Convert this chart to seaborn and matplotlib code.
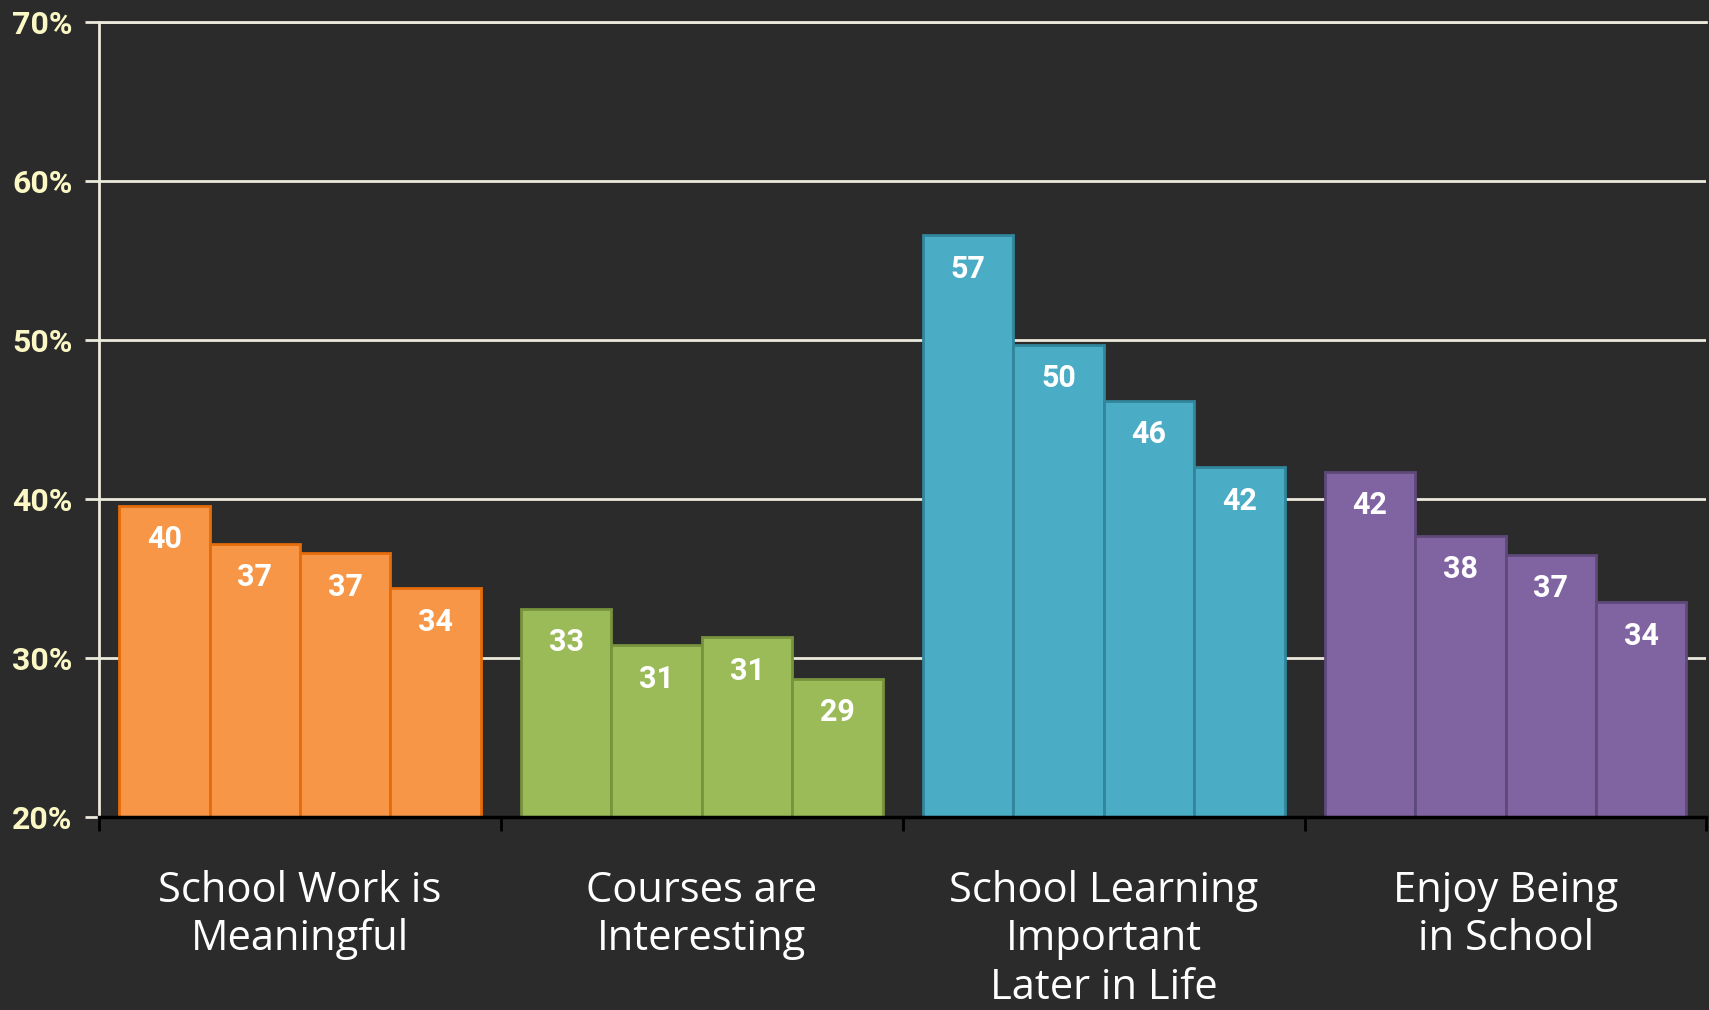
import numpy as np
import pandas as pd
import matplotlib.pyplot as plt
import seaborn as sns

# chart data
categories = ["School Work is\nMeaningful", "Courses are\nInteresting",
              "School Learning\nImportant\nLater in Life", "Enjoy Being\nin School"]
waves = ["Wave 1", "Wave 2", "Wave 3", "Wave 4"]
meaningful = [39.6, 37.2, 36.6, 34.4]
interesting = [33.1, 30.8, 31.3, 28.7]
important_later = [56.6, 49.7, 46.2, 42.0]
enjoy_school = [41.7, 37.7, 36.5, 33.5]
shown_labels = [[40, 37, 37, 34], [33, 31, 31, 29], [57, 50, 46, 42], [42, 38, 37, 34]]
y_ticks = [20, 30, 40, 50, 60, 70]

# colours
fill_colors = ["#F79646", "#9BBB59", "#4BACC6", "#8064A2"]
edge_colors = ["#E46C0A", "#77933C", "#31859C", "#5F497A"]
BG = "#2B2B2B"
GRID = "#ECE9DD"
TICK_TXT = "#FBF8C6"

NARROW = ["Liberation Sans Narrow", "Roboto", "DejaVu Sans"]


def build_frame() -> pd.DataFrame:
    rows = []
    for cat, vals in zip(categories, [meaningful, interesting, important_later, enjoy_school]):
        for w, v in zip(waves, vals):
            rows.append({"category": cat, "wave": w, "value": v})
    return pd.DataFrame(rows)


df = build_frame()

fig = plt.figure(figsize=(17.09, 10.10), dpi=100, facecolor=BG)
ax = fig.add_axes([0.058, 0.191, 0.9405, 0.787])
ax.set_facecolor(BG)

sns.barplot(data=df, x="category", y="value", hue="wave", order=categories,
            hue_order=waves, width=0.9, gap=0, saturation=1, legend=False,
            palette=["#888888"] * 4, ax=ax)

# colour bars by category, not by wave
for wi, cont in enumerate(ax.containers):
    for ci, bar in enumerate(cont):
        bar.set_facecolor(fill_colors[ci])
        bar.set_edgecolor(edge_colors[ci])
        bar.set_linewidth(2)
        x = bar.get_x() + bar.get_width() / 2
        ax.annotate(str(shown_labels[ci][wi]), (x, bar.get_height()),
                    xytext=(0, -24), textcoords="offset points",
                    ha="center", va="center", color="white",
                    fontsize=22, fontweight="bold", family=NARROW,
                    fontstretch="condensed")

ax.set_ylim(20, 70)
ax.set_xlim(-0.5, 3.5)
ax.set_yticks(y_ticks)
ax.set_yticklabels([f"{t}%" for t in y_ticks], color=TICK_TXT, fontsize=23,
                   fontweight="bold", family=NARROW, fontstretch="condensed")
ax.tick_params(axis="y", length=10, width=2, color=GRID, pad=9)

ax.set_axisbelow(True)
ax.yaxis.grid(True, color=GRID, linewidth=2)

ax.set_xticks(range(len(categories)))
ax.set_xticklabels(categories, color="white", fontsize=30, family=["Open Sans", "DejaVu Sans"],
                   linespacing=1.2)
ax.set_xticks(np.arange(-0.5, len(categories)), minor=True)
ax.tick_params(axis="x", which="major", length=0, pad=38)
ax.tick_params(axis="x", which="minor", length=10, width=2, color="black")

ax.set_xlabel("")
ax.set_ylabel("")
ax.spines["right"].set_visible(False)
ax.spines["top"].set_color(GRID)
ax.spines["top"].set_linewidth(2)
ax.spines["left"].set_color(GRID)
ax.spines["left"].set_linewidth(2)
ax.spines["bottom"].set_color("black")
ax.spines["bottom"].set_linewidth(2.5)

fig.savefig("out.png", dpi=100, facecolor=BG)
